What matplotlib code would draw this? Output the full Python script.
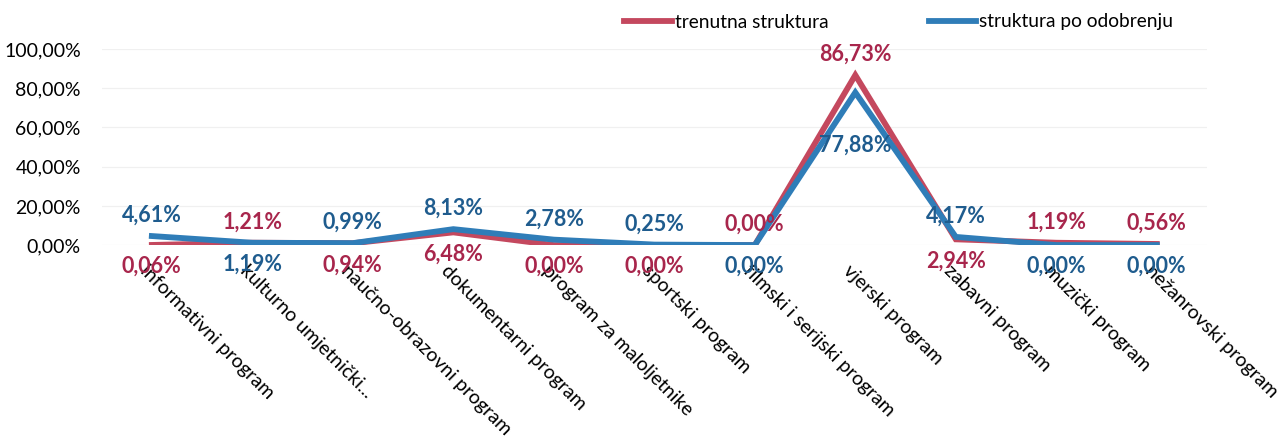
import numpy as np
import matplotlib.pyplot as plt
import matplotlib.transforms as mtransforms

plt.rcParams['font.family'] = ['Lato', 'DejaVu Sans']

# categories (as on the x axis)
categories = ['informativni program', 'kulturno umjetnički...', 'naučno-obrazovni program',
              'dokumentarni program', 'program za maloljetnike', 'sportski program',
              'filmski i serijski program', 'vjerski program', 'zabavni program',
              'muzički program', 'nežanrovski program']

# values in percent
trenutna = [0.06, 1.21, 0.94, 6.48, 0.00, 0.00, 0.00, 86.73, 2.94, 1.19, 0.56]
odobrenje = [4.61, 1.19, 0.99, 8.13, 2.78, 0.25, 0.00, 77.88, 4.17, 0.00, 0.00]

yticks = [0, 20, 40, 60, 80, 100]

red_line = '#C4485E'
blue_line = '#2F7DB8'
red_text = '#A8264C'
blue_text = '#1F5C8E'

def pct(v):
    return ('%.2f%%' % v).replace('.', ',')

fig = plt.figure(figsize=(12.86, 4.4), dpi=100)
ax = fig.add_axes([0.079, 0.443, 0.8596, 0.4454])

x = np.arange(len(categories))
ax.plot(x, trenutna, color=red_line, lw=4.2, solid_joinstyle='miter', label='trenutna struktura')
ax.plot(x, odobrenje, color=blue_line, lw=4.2, solid_joinstyle='miter', label='struktura po odobrenju')

ax.set_xlim(-0.5, len(categories) - 0.5)
ax.set_ylim(0, 100)
ax.set_yticks(yticks)
ax.set_yticklabels([pct(v) for v in yticks], fontsize=14)
ax.grid(axis='y', color='#F0F0F0', lw=0.9)
ax.set_axisbelow(True)
for s in ax.spines.values():
    s.set_visible(False)
ax.tick_params(length=0)
ax.tick_params(axis='y', pad=15)

ax.set_xticks(x)
ax.set_xticklabels(categories, rotation=-45, ha='left', va='top',
                   rotation_mode='anchor', fontsize=14)
off = mtransforms.ScaledTranslation(-3 / 100, -12 / 100, fig.dpi_scale_trans)
for lab in ax.get_xticklabels():
    lab.set_transform(lab.get_transform() + off)

# data labels: the higher value above, the lower one below
for i in range(len(categories)):
    r, b = trenutna[i], odobrenje[i]
    if r >= b:
        top, topc, bot, botc = r, red_text, b, blue_text
    else:
        top, topc, bot, botc = b, blue_text, r, red_text
    ax.annotate(pct(top), (i, top), xytext=(0, 10), textcoords='offset pixels',
                ha='center', va='bottom', fontsize=15.5, fontweight='bold',
                color=topc, annotation_clip=False)
    dy = -11 if bot < 50 else -42
    ax.annotate(pct(bot), (i, bot), xytext=(0, dy), textcoords='offset pixels',
                ha='center', va='top', fontsize=15.5, fontweight='bold',
                color=botc, annotation_clip=False)

fig.legend(loc='center', bbox_to_anchor=(0.699, 0.95), ncol=2, frameon=False,
           fontsize=13.8, handlelength=2.5, handletextpad=0.15, columnspacing=5.2)

fig.savefig('out.png', dpi=100)
